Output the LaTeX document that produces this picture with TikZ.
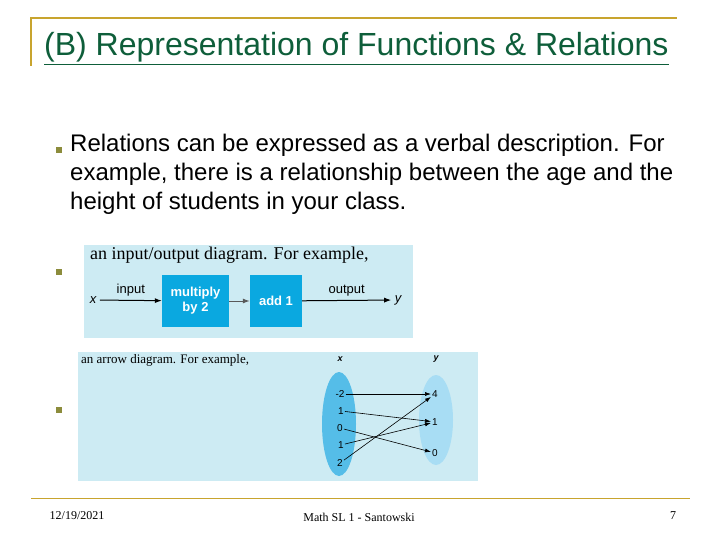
\documentclass[tikz,border=0pt]{standalone}
\usepackage{fontspec}
\setmainfont{Liberation Sans}
\newfontfamily\serif{Liberation Serif}
\usetikzlibrary{arrows.meta}
\definecolor{gold}{HTML}{C8A42E}
\definecolor{ttl}{HTML}{0E5E3A}
\definecolor{bul}{HTML}{8C8C3C}
\definecolor{panel}{HTML}{CDEBF3}
\definecolor{boxb}{HTML}{0AA8E0}
\definecolor{ellx}{HTML}{55BDE8}
\definecolor{elly}{HTML}{A8DDF4}
\tikzset{bul/.style={fill=bul,minimum size=6pt,inner sep=0pt},
 blk/.style={fill=boxb,text=white,font=\bfseries\fontsize{13}{15}\selectfont,minimum height=52pt,align=center},
 ar/.style={-{Latex[length=7pt,width=5pt]},line width=1pt},
 thin/.style={-{Latex[length=6pt,width=4pt]},line width=0.6pt},
 sm/.style={font=\fontsize{10}{11}\selectfont,inner sep=1pt}}
\begin{document}
\begin{tikzpicture}[x=1pt,y=-1pt]
\useasboundingbox (0,0) rectangle (720,540);
\draw[gold,line width=2pt] (31,66) -- (31,18) -- (677,18);
\node[anchor=base west,text=ttl,font=\fontsize{32}{36}\selectfont,inner sep=0] (title) at (44,56) {\underline{(B) Representation of Functions \& Relations}};
\node[bul] (b1) at (59,150) {};
\node[bul] (b2) at (59,272) {};
\node[bul] (b3) at (59,410) {};
\node[anchor=north west,align=left,font=\fontsize{24}{29}\selectfont,inner sep=0] (t1) at (70,134) {Relations can be expressed as a verbal description. For\\example, there is a relationship between the age and the\\height of students in your class.};
% panel 1
\fill[panel] (84,245) rectangle (413,338);
\node[anchor=west,font=\serif\fontsize{18}{20}\selectfont,inner sep=0] (p1) at (90,255) {an input/output diagram. For example,};
\node[blk,minimum width=67pt] (m) at (195.5,301) {multiply\\by 2};
\node[blk,minimum width=52pt] (a) at (276,301) {add 1};
\node[font=\itshape\fontsize{13}{15}\selectfont] (x) at (93,300) {x};
\node[font=\itshape\fontsize{13}{15}\selectfont] (y) at (398,300) {y};
\draw[ar] (x) -- node[above,font=\fontsize{13}{15}\selectfont]{input} (m);
\draw[ar,gray!70!black] (m) -- (a);
\draw[ar] (a) -- node[above,font=\fontsize{13}{15}\selectfont]{output} (y);
% panel 2
\fill[panel] (78,352) rectangle (478,481);
\node[anchor=west,font=\serif\fontsize{13}{15}\selectfont,inner sep=0] (p2) at (81,360) {an arrow diagram. For example,};
\fill[ellx] (339,424) ellipse (17 and 52);
\fill[elly] (436,420) ellipse (17 and 45);
\node[sm,font=\itshape\bfseries\fontsize{9}{10}\selectfont] (hx) at (340,359) {x};
\node[sm,font=\itshape\bfseries\fontsize{9}{10}\selectfont] (hy) at (436,359) {y};
\node[sm] (x1) at (340,394) {-2};
\node[sm] (x2) at (341,411) {1};
\node[sm] (x3) at (340,428) {0};
\node[sm] (x4) at (341,445) {1};
\node[sm] (x5) at (340,463) {2};
\node[sm] (y1) at (435,394) {4};
\node[sm] (y2) at (435,422) {1};
\node[sm] (y3) at (435,453) {0};
\draw[thin] (x1) -- (y1);
\draw[thin] (x2) -- (y2);
\draw[thin] (x3) -- (y3);
\draw[thin] (x4) -- (y2);
\draw[thin] (x5) -- (y1);
% footer
\draw[gold,line width=1pt] (31,498) -- (690,498);
\node[font=\serif\fontsize{12}{14}\selectfont] (d) at (77,516) {12/19/2021};
\node[font=\serif\fontsize{12}{14}\selectfont] (f) at (359,517) {Math SL 1 - Santowski};
\node[font=\serif\fontsize{12}{14}\selectfont] (n) at (673,516) {7};
\end{tikzpicture}
\end{document}
